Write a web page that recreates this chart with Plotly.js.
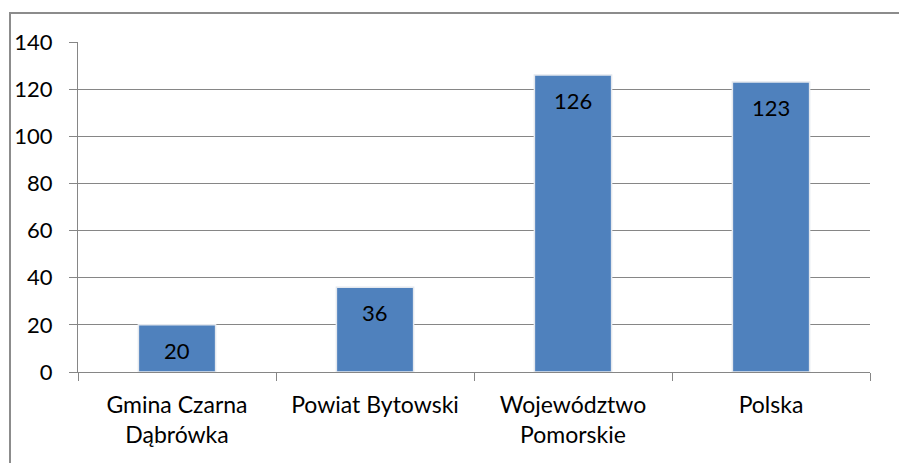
<!DOCTYPE html>
<html>
<head>
<meta charset="utf-8">
<script src="https://cdn.plot.ly/plotly-3.0.1.min.js"></script>
<style>
html,body{margin:0;padding:0;background:#fff;overflow:hidden;width:899px;height:463px;}
#frame{position:absolute;left:9px;top:12px;width:890px;height:451px;border-top:2px solid #8c8c8c;border-left:2px solid #8c8c8c;box-sizing:border-box;}
#chart{position:absolute;left:0;top:0;width:899px;height:463px;}
</style>
</head>
<body>
<div id="frame"></div>
<div id="chart"></div>
<script>
const categories = ["Gmina Czarna<br>Dąbrówka", "Powiat Bytowski", "Województwo<br>Pomorskie", "Polska"];
const values = [20, 36, 126, 123];
const tickValues = [0, 20, 40, 60, 80, 100, 120, 140];

const FONT = "Lato, 'Open Sans', sans-serif";
const trace = {
  type: 'bar',
  x: categories,
  y: values,
  marker: {color: '#4f81bd', line: {color: '#e4e8ee', width: 1.5}},
  textposition: 'none',
  hoverinfo: 'none'
};
const annotations = categories.map((c, i) => ({
  x: c, y: values[i], xref: 'x', yref: 'y',
  text: String(values[i]), showarrow: false,
  yanchor: 'top', yshift: -10,
  font: {family: FONT, size: 22, color: '#000'}
}));
const layout = {
  width: 899, height: 463,
  margin: {l: 78, r: 29, t: 42, b: 91},
  paper_bgcolor: 'rgba(0,0,0,0)',
  plot_bgcolor: 'rgba(0,0,0,0)',
  showlegend: false,
  bargap: 0.61,
  font: {family: FONT, size: 21, color: '#000'},
  xaxis: {
    type: 'category',
    showline: true, linecolor: '#868686', linewidth: 1,
    ticks: 'outside', tickson: 'boundaries', ticklen: 8, tickcolor: '#868686',
    showgrid: false, zeroline: false,
    ticklabelstandoff: 12,
    tickfont: {family: FONT, size: 23, color: '#000'}
  },
  yaxis: {
    range: [0, 140], tickvals: tickValues, ticktext: tickValues.map(String),
    showline: true, linecolor: '#868686', linewidth: 1,
    ticks: 'outside', ticklen: 8, tickcolor: '#868686',
    showgrid: true, gridcolor: '#868686', gridwidth: 1,
    zeroline: false,
    ticklabelstandoff: 12,
    tickfont: {family: FONT, size: 22, color: '#000'}
  },
  annotations: annotations
};
Plotly.newPlot('chart', [trace], layout, {displayModeBar: false, staticPlot: true});
</script>
</body>
</html>
